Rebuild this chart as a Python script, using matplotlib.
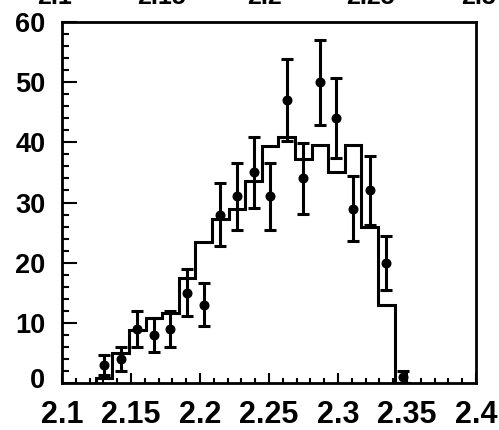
import matplotlib
matplotlib.use("Agg")
import matplotlib.pyplot as plt
from matplotlib.ticker import MultipleLocator
import matplotlib.transforms as mtransforms
import numpy as np

plt.rcParams['font.family'] = ['Liberation Sans', 'DejaVu Sans']
plt.rcParams['font.weight'] = 'bold'

# Bin edges of the mass histogram
bin_edges = [2.1245, 2.1365, 2.1486, 2.1606, 2.1726, 2.1846, 2.1967, 2.2087,
             2.2207, 2.2328, 2.2448, 2.2568, 2.2688, 2.2809, 2.2929, 2.3049,
             2.3170, 2.3290, 2.3410, 2.3530]

# Observed counts per bin
data_counts = [3, 4, 9, 8, 9, 15, 13, 28, 31, 35, 31, 47, 34, 50, 44, 29, 32, 20, 1]

# Simulated (normalised) expectation per bin
mc_counts = [0.8, 5.0, 8.8, 10.8, 11.6, 17.4, 23.4, 27.2, 29.0, 33.6, 39.4,
             40.9, 37.3, 39.5, 35.1, 39.5, 26.0, 13.0, 0.0]

x_ticks = [2.1, 2.15, 2.2, 2.25, 2.3, 2.35, 2.4]
x_tick_labels = ["2.1", "2.15", "2.2", "2.25", "2.3", "2.35", "2.4"]
y_ticks = [0, 10, 20, 30, 40, 50, 60]
top_strip_labels = ["2.1", "2.15", "2.2", "2.25", "2.3"]

edges = np.array(bin_edges)
centers = 0.5 * (edges[:-1] + edges[1:])
counts = np.array(data_counts, dtype=float)

fig = plt.figure(figsize=(4.99, 4.30), dpi=100)
ax = fig.add_axes([0.1242, 0.1093, 0.8297, 0.8395])

ax.stairs(mc_counts, edges, color='black', linewidth=2.2, baseline=0)
ax.errorbar(centers, counts, yerr=np.sqrt(counts), fmt='o', color='black',
            markersize=6.2, elinewidth=2.2, capsize=4.3, capthick=2.2)

ax.set_xlim(2.1, 2.4)
ax.set_ylim(0, 60)
ax.set_xticks(x_ticks)
ax.set_xticklabels(x_tick_labels, fontsize=22, fontweight='bold')
ax.set_yticks(y_ticks)
ax.set_yticklabels([str(v) for v in y_ticks], fontsize=19.5, fontweight='bold')
ax.xaxis.set_minor_locator(MultipleLocator(0.01))
ax.yaxis.set_minor_locator(MultipleLocator(2))

ax.tick_params(axis='both', which='both', direction='in', top=False, right=False,
               width=1.5, color='black')
ax.tick_params(axis='x', which='major', length=7.5, pad=12)
ax.tick_params(axis='x', which='minor', length=3.8)
ax.tick_params(axis='y', which='major', length=10.5, pad=12)
ax.tick_params(axis='y', which='minor', length=5)

# lift the "0" label clear of the x labels
zero_label = ax.get_yticklabels()[0]
zero_label.set_transform(zero_label.get_transform() +
                         mtransforms.ScaledTranslation(0, 5 / 100, fig.dpi_scale_trans))

for sp in ax.spines.values():
    sp.set_linewidth(2.0)

# Axis labels of the panel above, cut by the top edge
top_x = [55, 161, 265, 370, 478]
for px, lab in zip(top_x, top_strip_labels):
    fig.text(px / 499, 1 - 4 / 430, lab, ha='center', va='baseline',
             fontsize=18, fontweight='bold')

fig.savefig('out.png', dpi=100)
